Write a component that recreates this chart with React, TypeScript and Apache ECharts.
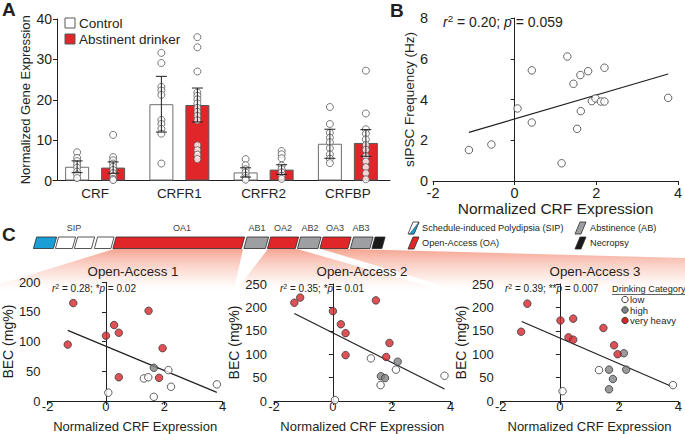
import React, { useEffect, useRef } from 'react';
import * as echarts from 'echarts';

// ---------- Panel A data ----------
const geneCategories = ['CRF', 'CRFR1', 'CRFR2', 'CRFBP'];
const controlMean = [3.4, 18.9, 2.0, 9.1];
const controlSd = [1.45, 6.9, 1.15, 3.6];
const drinkerMean = [3.2, 18.7, 2.7, 9.3];
const drinkerSd = [1.4, 4.2, 1.2, 3.3];
const controlDots = [
  [7.0, 5.6, 4.8, 4.0, 3.2, 2.2, 1.5, 0.6],
  [31.6, 29.1, 23.2, 22.3, 21.2, 15.0, 14.0, 12.8, 11.6, 4.2],
  [5.3, 3.8, 2.8, 2.0, 1.2, 0.6, 0.2],
  [18.2, 14.0, 11.8, 10.6, 9.5, 8.0, 6.5, 5.4, 4.3],
];
const drinkerDots = [
  [11.3, 5.8, 5.0, 4.2, 3.4, 2.6, 1.8, 1.0, 0.4, 0.1],
  [35.5, 33.0, 27.0, 21.8, 21.0, 20.1, 19.1, 18.0, 17.0, 16.0, 14.9, 8.7, 7.5, 6.4, 5.3],
  [7.3, 6.5, 5.5, 3.7, 2.8, 2.0, 1.2, 0.4],
  [27.2, 16.6, 12.7, 11.6, 10.2, 8.8, 7.6, 6.0, 4.7, 3.3, 1.8, 0.3],
];

// ---------- Panel B data ----------
const bCrf = [-1.12, -0.57, 0.07, 0.42, 0.42, 1.15, 1.29, 1.44, 1.53, 1.61, 1.62, 1.8, 1.89, 1.98, 2.11, 2.2, 2.2, 3.76];
const bIpsc = [1.52, 1.79, 3.56, 5.43, 2.87, 0.87, 6.11, 4.77, 2.56, 5.2, 3.43, 5.39, 3.92, 4.05, 3.9, 3.9, 5.56, 4.08];
const bFit = [[-1.12, 2.39], [3.76, 5.25]];

// ---------- Panel C data (CRF expression, BEC) ----------
const oa1VeryHeavy = [[-1.12, 165], [-1.31, 95], [0, 110], [0.28, 128], [0.44, 115], [0.44, 40], [1.46, 152], [1.94, 89], [1.82, 39]];
const oa1High = [[1.64, 56]];
const oa1Low = [[0.08, 14], [1.3, 38], [1.45, 40], [1.64, 7], [2.14, 52], [2.23, 24], [3.8, 28]];
const oa1Fit = [[-1.31, 119], [3.8, 14.5]];

const oa2VeryHeavy = [[-1.31, 210], [-1.11, 221], [0, 192], [0.27, 164], [0.43, 145], [0.43, 98], [1.46, 215], [1.92, 124], [1.81, 94]];
const oa2High = [[1.63, 53], [1.77, 49], [2.2, 84]];
const oa2Low = [[0.07, 2], [1.29, 91], [1.62, 34], [2.14, 67], [3.79, 54]];
const oa2Fit = [[-1.31, 187], [3.79, 25.5]];

const oa3VeryHeavy = [[-1.31, 148], [-1.1, 208], [0.02, 172], [0.45, 176], [0.29, 136], [0.45, 131], [1.47, 156], [1.83, 119], [1.95, 100]];
const oa3High = [[2.16, 102], [1.66, 67], [2.24, 67], [1.79, 47], [1.66, 25]];
const oa3Low = [[1.32, 66], [0.09, 21], [3.82, 34]];
const oa3Fit = [[-1.29, 170], [3.82, 30]];

const timelineLabels = ['SIP', 'OA1', 'AB1', 'OA2', 'AB2', 'OA3', 'AB3'];
const oaTitles = ['Open-Access 1', 'Open-Access 2', 'Open-Access 3'];
const oaStats = [
  ['0.28', '*', '0.02'],
  ['0.35', '*', '0.01'],
  ['0.39', '**', '0.007'],
];
const drinkingCategories = ['low', 'high', 'very heavy'];

// ---------- styles ----------
const FONT = '"Liberation Sans", Arial, Helvetica, sans-serif';
const INK = '#231f20';
const RED = '#e1262a';
const GREY = '#808285';
const BLUE = '#1b9dd6';
const EDGE = '#3b3b3d';

const txt = (x: number, y: number, text: string, o: any = {}) => ({
  type: 'text',
  x,
  y,
  z: 100,
  silent: true,
  style: {
    text,
    fill: o.fill ?? INK,
    fontFamily: FONT,
    fontSize: o.size ?? 12,
    fontWeight: o.weight ?? 'normal',
    align: o.align ?? 'left',
    verticalAlign: 'middle',
    textAlign: o.align ?? 'left',
    textVerticalAlign: 'middle',
    rich: o.rich,
  },
});

const para = (x0: number, x1: number, y0: number, y1: number, fill: string, skew = 1.6) => ({
  type: 'polygon',
  z: 10,
  silent: true,
  shape: {
    points: [
      [x0 + skew, y0],
      [x1 + skew, y0],
      [x1 - skew, y1],
      [x0 - skew, y1],
    ],
  },
  style: { fill, stroke: '#2b2b2b', lineWidth: 0.8 },
});

const fan = (pts: number[][]) => ({
  type: 'polygon',
  z: 0,
  silent: true,
  shape: { points: pts },
  style: {
    fill: new echarts.graphic.LinearGradient(0, 0, 0, 1, [
      { offset: 0, color: 'rgba(240,115,85,0.65)' },
      { offset: 0.6, color: 'rgba(248,175,155,0.28)' },
      { offset: 1, color: 'rgba(255,255,255,0)' },
    ]),
  },
});

const statRich = (size: number) => ({
  n: { fontFamily: FONT, fontSize: size, fill: INK },
  i: { fontFamily: FONT, fontSize: size, fill: INK, fontStyle: 'italic' },
  s: { fontFamily: FONT, fontSize: size * 0.7, fill: INK, verticalAlign: 'top', padding: [0, 0, size * 0.45, 0] },
});

const axisCommon = (size: number) => ({
  axisLine: { show: true, lineStyle: { color: INK, width: 1 } },
  axisTick: { show: true, length: 4, lineStyle: { color: INK, width: 1 } },
  splitLine: { show: false },
  axisLabel: { color: INK, fontFamily: FONT, fontSize: size },
  nameTextStyle: { color: INK, fontFamily: FONT },
});

const errorBars = (shift: number) => (params: any, api: any) => {
  const c = api.value(0);
  const m = api.value(1);
  const s = api.value(2);
  const hi = api.coord([c, m + s]);
  const lo = api.coord([c, m - s]);
  const x = hi[0] + shift;
  const style = { stroke: INK, lineWidth: 1 };
  return {
    type: 'group',
    children: [
      { type: 'line', shape: { x1: x, y1: hi[1], x2: x, y2: lo[1] }, style },
      { type: 'line', shape: { x1: x - 5.5, y1: hi[1], x2: x + 5.5, y2: hi[1] }, style },
      { type: 'line', shape: { x1: x - 5.5, y1: lo[1], x2: x + 5.5, y2: lo[1] }, style },
    ],
  };
};

const dotStyle = (color: string) => ({ color, borderColor: EDGE, borderWidth: 1 });

function buildOption() {
  const grids = [
    { left: 53, top: 19, width: 337, height: 161.5 },
    { left: 433, top: 18, width: 245, height: 163 },
    { left: 45.7, top: 282.3, width: 177, height: 119.7 },
    { left: 274, top: 284, width: 176.7, height: 117.7 },
    { left: 500.7, top: 284, width: 177.6, height: 117.5 },
  ];

  const xAxis: any[] = [
    {
      ...axisCommon(13.5),
      gridIndex: 0,
      type: 'category',
      data: geneCategories,
      axisTick: { show: false },
      axisLabel: { color: INK, fontFamily: FONT, fontSize: 13.5, margin: 6 },
    },
    {
      ...axisCommon(14),
      gridIndex: 1,
      type: 'value',
      min: -2,
      max: 4,
      interval: 2,
      name: 'Normalized CRF Expression',
      nameLocation: 'middle',
      nameGap: 17,
      nameTextStyle: { color: INK, fontFamily: FONT, fontSize: 15.5 },
      axisLabel: { color: INK, fontFamily: FONT, fontSize: 14.5, margin: 4 },
    },
  ];
  const yAxis: any[] = [
    {
      ...axisCommon(14),
      gridIndex: 0,
      type: 'value',
      min: 0,
      max: 40,
      interval: 10,
      offset: -4,
      name: 'Normalized Gene Expression',
      nameLocation: 'middle',
      nameGap: 25,
      nameTextStyle: { color: INK, fontFamily: FONT, fontSize: 13 },
      axisLabel: { color: INK, fontFamily: FONT, fontSize: 14, margin: 5 },
    },
    {
      ...axisCommon(14),
      gridIndex: 1,
      type: 'value',
      min: 0,
      max: 8,
      interval: 2,
      name: 'sIPSC Frequency (Hz)',
      nameLocation: 'middle',
      nameGap: 14,
      nameTextStyle: { color: INK, fontFamily: FONT, fontSize: 13.5 },
      axisLabel: { color: INK, fontFamily: FONT, fontSize: 14.5, margin: 5 },
    },
  ];
  const oaMax = [200, 250, 250];
  for (let k = 0; k < 3; k++) {
    xAxis.push({
      ...axisCommon(13),
      gridIndex: 2 + k,
      type: 'value',
      min: -2,
      max: 4,
      interval: 2,
      name: 'Normalized CRF Expression',
      nameLocation: 'middle',
      nameGap: 19,
      nameTextStyle: { color: INK, fontFamily: FONT, fontSize: 13 },
      axisLabel: { color: INK, fontFamily: FONT, fontSize: 13, margin: -1.5 },
    });
    yAxis.push({
      ...axisCommon(13),
      gridIndex: 2 + k,
      type: 'value',
      min: 0,
      max: oaMax[k],
      interval: 50,
      name: 'BEC (mg%)',
      nameLocation: 'middle',
      nameGap: 30,
      nameTextStyle: { color: INK, fontFamily: FONT, fontSize: 14 },
      axisLabel: { color: INK, fontFamily: FONT, fontSize: 13, margin: 7 },
    });
  }

  const series: any[] = [
    {
      type: 'bar',
      xAxisIndex: 0,
      yAxisIndex: 0,
      data: controlMean,
      barWidth: 24,
      barGap: '50%',
      itemStyle: { color: '#ffffff', borderColor: '#6d6e71', borderWidth: 1 },
      z: 2,
    },
    {
      type: 'bar',
      xAxisIndex: 0,
      yAxisIndex: 0,
      data: drinkerMean,
      barWidth: 24,
      barGap: '50%',
      itemStyle: { color: RED, borderColor: '#58595b', borderWidth: 1 },
      z: 2,
    },
    {
      type: 'scatter',
      xAxisIndex: 0,
      yAxisIndex: 0,
      data: controlDots.flatMap((arr, i) => arr.map((v) => [i, v])),
      symbolSize: 7,
      symbolOffset: [-18, 0],
      itemStyle: { color: '#ffffff', borderColor: '#58595b', borderWidth: 1 },
      z: 3,
    },
    {
      type: 'scatter',
      xAxisIndex: 0,
      yAxisIndex: 0,
      data: drinkerDots.flatMap((arr, i) => arr.map((v) => [i, v])),
      symbolSize: 7,
      symbolOffset: [18, 0],
      itemStyle: { color: '#ffffff', borderColor: '#58595b', borderWidth: 1 },
      z: 3,
    },
    {
      type: 'custom',
      xAxisIndex: 0,
      yAxisIndex: 0,
      data: controlMean.map((m, i) => [i, m, controlSd[i]]),
      renderItem: errorBars(-18),
      z: 4,
    },
    {
      type: 'custom',
      xAxisIndex: 0,
      yAxisIndex: 0,
      data: drinkerMean.map((m, i) => [i, m, drinkerSd[i]]),
      renderItem: errorBars(18),
      z: 4,
    },
    {
      type: 'line',
      xAxisIndex: 1,
      yAxisIndex: 1,
      data: bFit,
      symbol: 'none',
      lineStyle: { color: INK, width: 1.2 },
      z: 3,
    },
    {
      type: 'scatter',
      xAxisIndex: 1,
      yAxisIndex: 1,
      data: bCrf.map((x, i) => [x, bIpsc[i]]),
      symbolSize: 7.5,
      itemStyle: { color: '#ffffff', borderColor: '#414042', borderWidth: 1 },
      z: 4,
    },
  ];

  const oaSets = [
    [oa1VeryHeavy, oa1High, oa1Low, oa1Fit],
    [oa2VeryHeavy, oa2High, oa2Low, oa2Fit],
    [oa3VeryHeavy, oa3High, oa3Low, oa3Fit],
  ];
  oaSets.forEach(([vh, hi, lo, fit], k) => {
    const ax = 2 + k;
    series.push({
      type: 'line',
      xAxisIndex: ax,
      yAxisIndex: ax,
      data: fit,
      symbol: 'none',
      lineStyle: { color: INK, width: 1.2 },
      z: 3,
    });
    series.push({ type: 'scatter', xAxisIndex: ax, yAxisIndex: ax, data: lo, symbolSize: 7.5, itemStyle: dotStyle('#ffffff'), z: 4 });
    series.push({ type: 'scatter', xAxisIndex: ax, yAxisIndex: ax, data: hi, symbolSize: 7.5, itemStyle: dotStyle(GREY), z: 4 });
    series.push({ type: 'scatter', xAxisIndex: ax, yAxisIndex: ax, data: vh, symbolSize: 7.5, itemStyle: dotStyle('#d7262b'), z: 4 });
  });

  // ---------- graphics ----------
  const g: any[] = [];
  // fans
  g.push(fan([[114, 249], [243, 249], [233, 294], [0, 294], [0, 284]]));
  g.push(fan([[268, 249], [297, 249], [455, 294], [233, 294]]));
  g.push(fan([[321, 249], [350, 249], [685, 258], [685, 294], [470, 294]]));

  // panel letters
  g.push(txt(2, 9, 'A', { size: 19, weight: 'bold' }));
  g.push(txt(390, 10, 'B', { size: 19, weight: 'bold' }));
  g.push(txt(2, 234, 'C', { size: 19, weight: 'bold' }));

  // A legend
  g.push({ type: 'rect', z: 100, shape: { x: 65, y: 18, width: 10, height: 10 }, style: { fill: '#fff', stroke: '#58595b', lineWidth: 1 } });
  g.push(txt(79, 23.5, 'Control', { size: 13.5 }));
  g.push({ type: 'rect', z: 100, shape: { x: 65, y: 34, width: 10, height: 10 }, style: { fill: RED, stroke: '#58595b', lineWidth: 1 } });
  g.push(txt(79, 39.5, 'Abstinent drinker', { size: 13.5 }));

  // B stats
  g.push(txt(443, 22, '{i|r}{s|2}{n| = 0.20; }{i|p}{n| = 0.059}', { size: 14, rich: statRich(14) }));

  // Timeline
  const boxes: [number, number, string][] = [
    [35, 55, BLUE],
    [57, 74, '#ffffff'],
    [76, 93, '#ffffff'],
    [96, 112.5, '#ffffff'],
    [114.5, 243, RED],
    [245.5, 267, '#9d9fa2'],
    [269, 297, RED],
    [299, 319.5, '#9d9fa2'],
    [321.5, 349.5, RED],
    [352, 371.5, '#9d9fa2'],
    [373.5, 383.5, '#1a1a1a'],
  ];
  boxes.forEach(([a, b, c]) => g.push(para(a, b, 237, 248.5, c)));
  const labelX = [74, 182, 257, 283, 310, 335, 361];
  timelineLabels.forEach((t, i) => g.push(txt(labelX[i], 227.5, t, { size: 9, align: 'center', fill: '#414042' })));

  // timeline legend
  g.push({ type: 'polygon', z: 100, shape: { points: [[413, 222], [419, 222], [414, 234], [408, 234]] }, style: { fill: '#fff', stroke: '#2b2b2b', lineWidth: 0.8 } });
  g.push({ type: 'polygon', z: 101, shape: { points: [[419, 222], [414, 234], [409.5, 234]] }, style: { fill: BLUE, stroke: '#2b2b2b', lineWidth: 0.5 } });
  g.push({ type: 'polygon', z: 100, shape: { points: [[413, 237], [419, 237], [414, 249], [408, 249]] }, style: { fill: RED, stroke: '#2b2b2b', lineWidth: 0.8 } });
  g.push({ type: 'polygon', z: 100, shape: { points: [[580, 222], [586, 222], [581, 234], [575, 234]] }, style: { fill: '#9d9fa2', stroke: '#2b2b2b', lineWidth: 0.8 } });
  g.push({ type: 'polygon', z: 100, shape: { points: [[580, 237], [586, 237], [581, 249], [575, 249]] }, style: { fill: '#1a1a1a', stroke: '#2b2b2b', lineWidth: 0.8 } });
  g.push(txt(422, 228, 'Schedule-induced Polydipsia (SIP)', { size: 9.2 }));
  g.push(txt(422, 243, 'Open-Access (OA)', { size: 9.2 }));
  g.push(txt(590, 228, 'Abstinence (AB)', { size: 9.2 }));
  g.push(txt(590, 243, 'Necropsy', { size: 9.2 }));

  // OA titles + stats
  const titleX = [133, 362, 595];
  const statX = [52, 280, 505];
  oaTitles.forEach((t, k) => {
    g.push(txt(titleX[k], 271.5, t, { size: 13.3, align: 'center' }));
    const [r2, star, p] = oaStats[k];
    g.push(txt(statX[k], 288.5, `{i|r}{s|2}{n| = ${r2}; ${star}}{i|p}{n| = ${p}}`, { size: 10, rich: statRich(10) }));
  });

  // OA3 legend
  g.push(txt(612, 289, 'Drinking Category', { size: 9.2 }));
  g.push({ type: 'line', z: 100, shape: { x1: 612, y1: 294.5, x2: 685, y2: 294.5 }, style: { stroke: INK, lineWidth: 0.7 } });
  const legFill = ['#ffffff', GREY, '#d7262b'];
  drinkingCategories.forEach((t, i) => {
    const y = 299.5 + i * 10.5;
    g.push({ type: 'circle', z: 100, shape: { cx: 625, cy: y, r: 3.2 }, style: { fill: legFill[i], stroke: EDGE, lineWidth: 1 } });
    g.push(txt(630, y, t, { size: 9.5 }));
  });

  return {
    animation: false,
    backgroundColor: '#ffffff',
    textStyle: { fontFamily: FONT },
    grid: grids,
    xAxis,
    yAxis,
    series,
    graphic: { elements: g },
  };
}

export default function App() {
  const ref = useRef<HTMLDivElement>(null);
  useEffect(() => {
    if (!ref.current) return;
    const chart = echarts.init(ref.current, undefined, { renderer: 'svg' });
    chart.setOption(buildOption() as any);
    return () => chart.dispose();
  }, []);
  return (
    <div
      ref={ref}
      style={{ position: 'absolute', left: 0, top: 0, width: 685, height: 434, background: '#fff' }}
    />
  );
}
